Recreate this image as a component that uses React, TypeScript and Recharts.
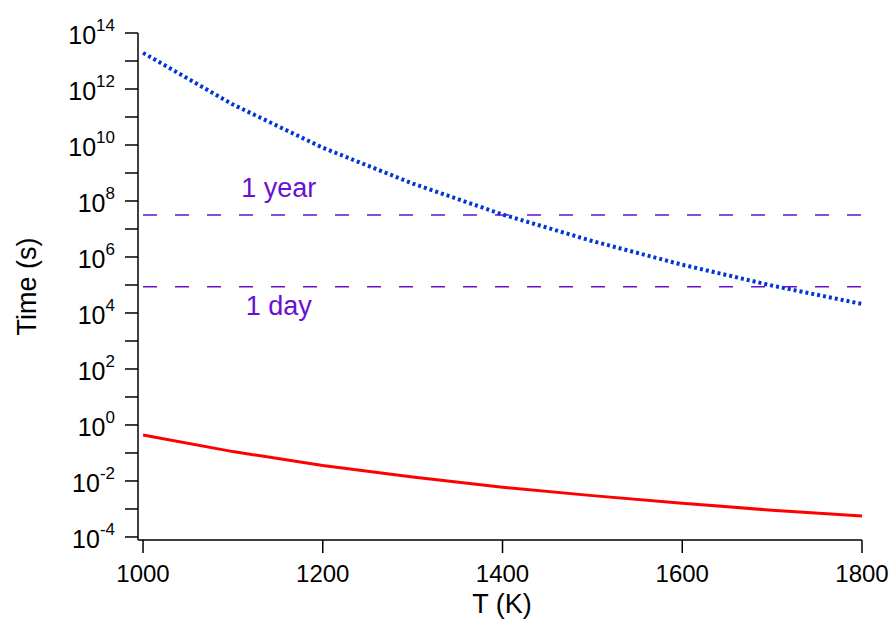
import { LineChart, Line, XAxis, YAxis, ReferenceLine, ReferenceDot, Label } from "recharts";

const temperatures = [1000, 1100, 1200, 1300, 1400, 1500, 1600, 1700, 1800];
const slowTime = [1.95e13, 2.8e11, 8.0e9, 4.2e8, 3.3e7, 3.7e6, 5.3e5, 9.5e4, 2.1e4];
const fastTime = [0.44, 0.112, 0.036, 0.0138, 0.006, 0.003, 0.0016, 0.0009, 0.00056];

const xTicks = [1000, 1200, 1400, 1600, 1800];
const yTicks = [1e-4, 1e-3, 1e-2, 1e-1, 1, 1e1, 1e2, 1e3, 1e4, 1e5, 1e6, 1e7, 1e8, 1e9, 1e10, 1e11, 1e12, 1e13, 1e14];

const ONE_YEAR = 3.156e7;
const ONE_DAY = 86400;
const MARK_T = 1151;

const FONT = "'Liberation Sans', Arial, Helvetica, sans-serif";
const PURPLE = "#6a10d0";

const data = temperatures.map((T, i) => ({ T, slow: slowTime[i], fast: fastTime[i] }));

function YTick(props: any) {
  const { x, y, payload } = props;
  const exp = Math.round(Math.log10(payload.value));
  if (exp % 2 !== 0) return null;
  return (
    <text x={x} y={y + 11} textAnchor="end" fontSize={25} fill="#000" fontFamily={FONT}>
      <tspan>10</tspan>
      <tspan fontSize={17} dy={-13}>{exp}</tspan>
    </text>
  );
}

function XTick(props: any) {
  const { x, y, payload } = props;
  return (
    <text x={x} y={y + 29} textAnchor="middle" fontSize={24} fill="#000" fontFamily={FONT}>
      {payload.value}
    </text>
  );
}

const markLabel = (text: string, dy: number) => (p: any) => (
  <text x={p.cx} y={p.cy + dy} textAnchor="middle" fontSize={27} fill={PURPLE} fontFamily={FONT}>
    {text}
  </text>
);

export default function App() {
  return (
    <div style={{ position: "absolute", left: 0, top: 0 }}>
      <LineChart width={893} height={619} data={data} margin={{ top: 33, right: 31, bottom: 0, left: 0 }}>
        <XAxis
          dataKey="T"
          type="number"
          domain={[994.4, 1800]}
          ticks={xTicks}
          interval={0}
          height={79}
          tickSize={13}
          tickMargin={0}
          tick={<XTick />}
          axisLine={{ stroke: "#000", strokeWidth: 1.5 }}
          tickLine={{ stroke: "#000", strokeWidth: 1.5 }}
          allowDataOverflow
        >
          <Label
            content={(p: any) => (
              <text
                x={p.viewBox.x + p.viewBox.width / 2 + 2}
                y={p.viewBox.y + 73}
                textAnchor="middle"
                fontSize={27}
                fill="#000"
                fontFamily={FONT}
              >
                T (K)
              </text>
            )}
          />
        </XAxis>
        <YAxis
          scale="log"
          type="number"
          domain={[7.8e-5, 1e14]}
          ticks={yTicks}
          interval={0}
          width={138}
          tickSize={13}
          tickMargin={10}
          tick={<YTick />}
          axisLine={{ stroke: "#000", strokeWidth: 1.5 }}
          tickLine={{ stroke: "#000", strokeWidth: 1.5 }}
          allowDataOverflow
        >
          <Label
            content={(p: any) => {
              const cx = p.viewBox.x + 36;
              const cy = p.viewBox.y + p.viewBox.height / 2;
              return (
                <text
                  transform={`translate(${cx},${cy}) rotate(-90)`}
                  textAnchor="middle"
                  fontSize={27}
                  fill="#000"
                  fontFamily={FONT}
                >
                  Time (s)
                </text>
              );
            }}
          />
        </YAxis>
        <ReferenceLine
          segment={[{ x: 1000, y: ONE_YEAR }, { x: 1800, y: ONE_YEAR }]}
          stroke={PURPLE}
          strokeWidth={1.5}
          strokeDasharray="14 18"
        />
        <ReferenceLine
          segment={[{ x: 1000, y: ONE_DAY }, { x: 1800, y: ONE_DAY }]}
          stroke={PURPLE}
          strokeWidth={1.5}
          strokeDasharray="14 18"
        />
        <ReferenceDot x={MARK_T} y={ONE_YEAR} shape={markLabel("1 year", -18)} />
        <ReferenceDot x={MARK_T} y={ONE_DAY} shape={markLabel("1 day", 28)} />
        <Line
          dataKey="slow"
          type="linear"
          stroke="#0035d8"
          strokeWidth={4}
          strokeDasharray="3 3"
          dot={false}
          activeDot={false}
          isAnimationActive={false}
        />
        <Line
          dataKey="fast"
          type="linear"
          stroke="#ff0000"
          strokeWidth={3}
          dot={false}
          activeDot={false}
          isAnimationActive={false}
        />
      </LineChart>
    </div>
  );
}
